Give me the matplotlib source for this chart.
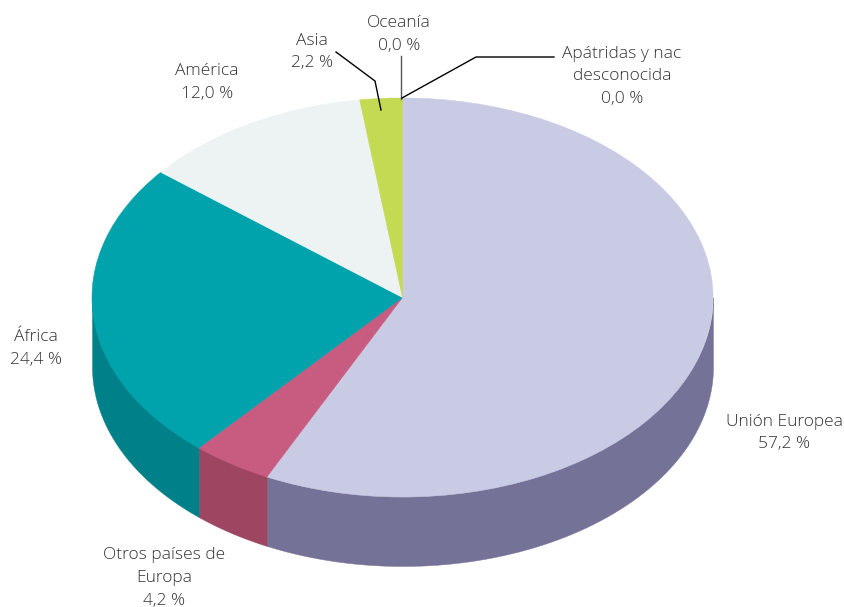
import numpy as np
import matplotlib
matplotlib.use("Agg")
import matplotlib.pyplot as plt

W, H = 845, 607
CX, CY, RX, RY, DEPTH = 402.5, 297.5, 310.5, 199.5, 69

names = ["Unión Europea", "Otros países de\nEuropa", "África", "América", "Asia", "Oceanía", "Apátridas y nac\ndesconocida"]
values = [57.2, 4.2, 24.4, 12.0, 2.2, 0.0, 0.0]
top_colors = ["#c9cbe5", "#c75b80", "#00a3ac", "#edf3f3", "#c3da52", "#e8e8d0", "#c9cbe5"]
side_colors = ["#757298", "#9e4562", "#008089", "#c0c8c8", "#9db040", "#c0c0a0", "#757298"]
label_pos = [(784, 433), (164, 578), (36, 348.5), (207, 82.5), (312, 52), (399, 34.5), (622, 76.5)]

plt.rcParams['font.family'] = ['Open Sans', 'DejaVu Sans']
fig = plt.figure(figsize=(W / 100, H / 100), dpi=100, facecolor="white")
ax = fig.add_axes([0, 0, 1, 1])

def X(px): return (px - CX) / RX
def Y(py): return (CY - py) / RY

# side wall, then the top surface
d = DEPTH / RY
edges = np.cumsum([0] + values) / sum(values) * 360
for v, c, a0, a1 in zip(values, side_colors, edges[:-1], edges[1:]):
    lo, hi = max(a0, 90), min(a1, 270)
    if v == 0 or hi <= lo:
        continue
    t = np.radians(np.linspace(lo, hi, 120))
    ax.fill_between(np.sin(t), np.cos(t) - d, np.cos(t) * 0.97, facecolor=c, edgecolor=c, lw=0.3, zorder=1)

wedges, _ = ax.pie(values, colors=top_colors, startangle=90, counterclock=False, radius=1,
                   wedgeprops=dict(linewidth=0))
for w, c, v in zip(wedges, top_colors, values):
    w.set_zorder(2)
    if v > 0:
        w.set_edgecolor(c)
        w.set_linewidth(0.4)

ax.set_aspect("auto")
ax.set_xlim(X(0), X(W))
ax.set_ylim(Y(H), Y(0))
ax.axis("off")

for n, v, (px, py) in zip(names, values, label_pos):
    txt = f"{n}\n{v:.1f} %".replace(".", ",")
    ax.text(X(px), Y(py), txt, ha="center", va="center", fontsize=12.5, fontweight="light",
            color="#333333", linespacing=1.58, zorder=5)

# leader lines
leaders = [([336, 375, 381], [52, 81, 110], "black"),
           ([400.5, 400.5], [56, 99], "#555555"),
           ([402, 476, 554], [98, 57, 57], "black")]
for xs, ys, c in leaders:
    ax.plot([X(x) for x in xs], [Y(y) for y in ys], color=c, lw=1, zorder=6)

fig.savefig("out.png", dpi=100, facecolor="white")
